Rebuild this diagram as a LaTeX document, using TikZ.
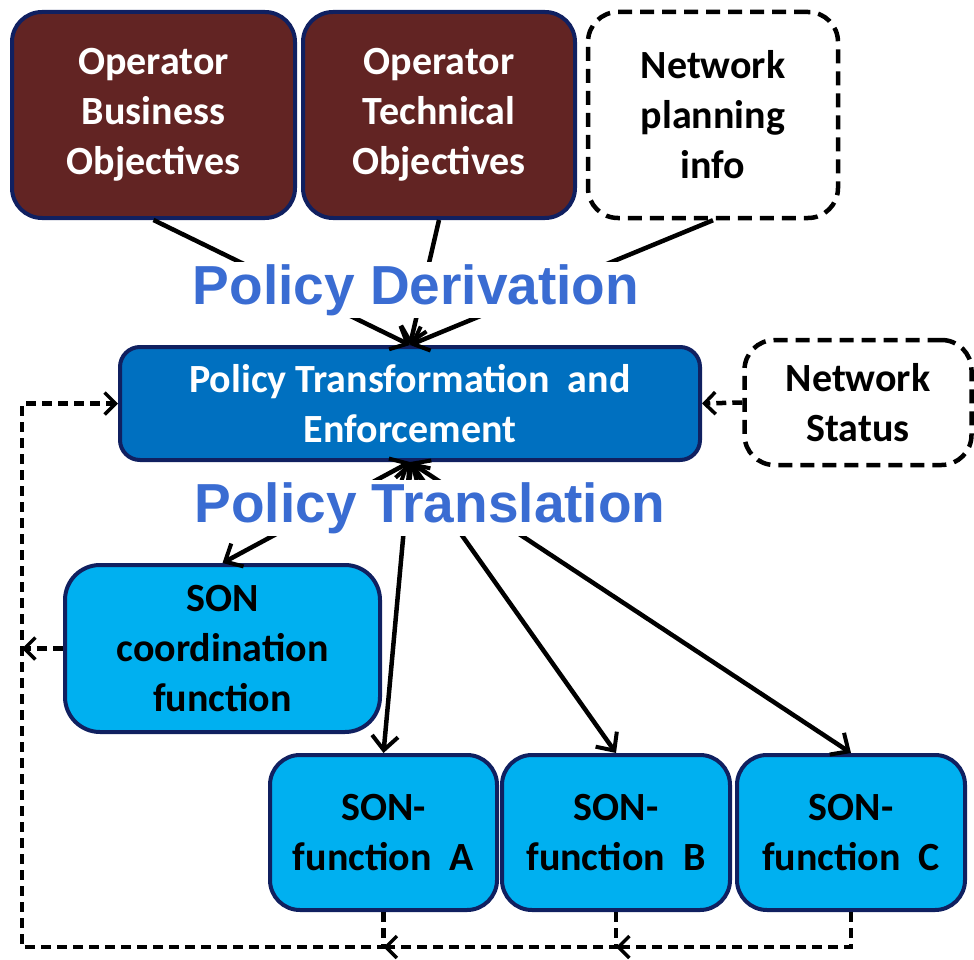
\documentclass[tikz,border=0pt]{standalone}
\usepackage{fontspec}
\setmainfont{Carlito}
\newfontfamily\labelfont{Liberation Sans}
\usetikzlibrary{arrows.meta}

\definecolor{Maroon}{RGB}{98,36,35}
\definecolor{Navy}{RGB}{16,32,96}
\definecolor{PolicyBlue}{RGB}{0,112,192}
\definecolor{SonCyan}{RGB}{0,176,240}
\definecolor{LabelBlue}{RGB}{58,108,210}

\begin{document}
\begin{tikzpicture}[x=1pt, y=-1pt,
	box/.style={draw=Navy, line width=4pt, rounded corners=30pt, align=center, inner sep=0pt, font=\bfseries\fontsize{40}{50}\selectfont},
	opbox/.style={box, fill=Maroon, text=white, minimum width=272pt, minimum height=206pt},
	infobox/.style={draw=black, line width=4.5pt, dash pattern=on 14pt off 8pt, rounded corners=30pt, fill=white, align=center, inner sep=0pt, font=\bfseries\fontsize{40}{50}\selectfont},
	sonbox/.style={box, fill=SonCyan, text=black, minimum width=227pt, minimum height=155pt},
	phase/.style={fill=white, text=LabelBlue, inner sep=2pt, font=\labelfont\bfseries\fontsize{55}{60}\selectfont},
	barb/.tip={Straight Barb[length=14pt, width=26pt, line width=4pt]},
	arr/.style={line width=4.5pt, -barb},
	biarr/.style={line width=4.5pt, barb-barb},
	dasharr/.style={line width=4.5pt, dash pattern=on 10pt off 6pt, -{Straight Barb[length=11pt, width=22pt, line width=3.5pt]}}]
	\path (0,0) to (974,960);

	% inputs
	\node[opbox, minimum width=283pt] (obo) at (153.5,115) {Operator\\Business\\Objectives};
	\node[opbox] (oto) at (439,115) {Operator\\Technical\\Objectives};
	\node[infobox, minimum width=250pt, minimum height=206pt] (npi) at (713,115) {Network\\planning\\info};

	% policy engine
	\node[box, fill=PolicyBlue, text=white, rounded corners=20pt, minimum width=580pt, minimum height=113pt] (pte) at (410,403.5) {Policy Transformation\ \ and\\Enforcement};
	\node[infobox, minimum width=227pt, minimum height=125pt] (ns) at (858,402.5) {Network\\Status};

	% SON functions
	\node[sonbox, rounded corners=35pt, minimum width=315pt, minimum height=167pt] (coord) at (222.5,648.5) {SON\\coordination\\function};
	\node[sonbox] (sona) at (383.5,832.5) {SON-\\function\ \ A};
	\node[sonbox, minimum width=228pt] (sonb) at (616,832.5) {SON-\\function\ \ B};
	\node[sonbox, minimum width=228pt] (sonc) at (851,832.5) {SON-\\function\ \ C};

	\draw[arr] (obo.south) -- (pte.north);
	\draw[arr] (oto.south) -- (pte.north);
	\draw[arr] (npi.south) -- (pte.north);

	\draw[biarr] (pte.south) -- (coord.north);
	\draw[biarr] (pte.south) -- (sona.north);
	\draw[biarr] (pte.south) -- (sonb.north);
	\draw[biarr] (pte.south) -- (sonc.north);

	\node[phase] (deriv) at (416,290) {Policy Derivation};
	\node[phase] (transl) at (430,508) {Policy Translation};

	% feedback
	\coordinate (corner) at (22,947);
	\draw[dasharr] (ns.west) -- (pte.east);
	\draw[dasharr] (sonc.south) |- (sonb.south |- corner);
	\draw[dasharr] (sonb.south) |- (sona.south |- corner);
	\draw[dasharr] (sona.south) |- (corner) |- (pte.west);
	\draw[dasharr] (coord.west) -- (coord.west -| corner);
\end{tikzpicture}
\end{document}
